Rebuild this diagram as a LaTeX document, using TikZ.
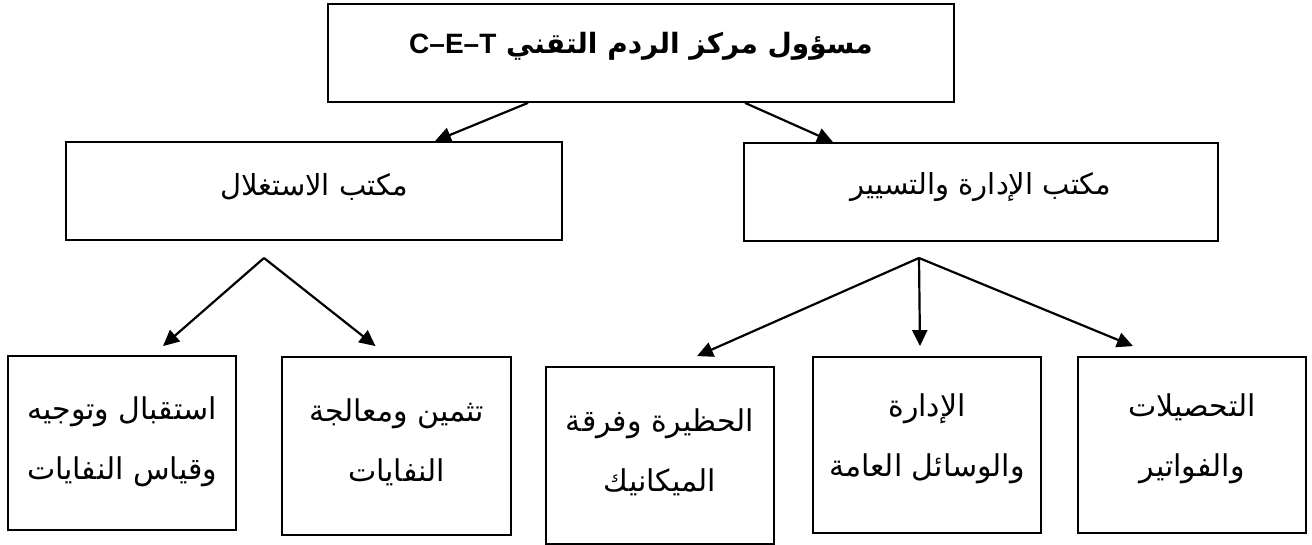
\documentclass[tikz,border=0pt]{standalone}
\usepackage{fontspec}
\setmainfont{Liberation Sans}
\newfontfamily\arabicfont[Script=Arabic]{DejaVu Sans}
\newfontfamily\latinfont{Liberation Sans}
\TeXXeTstate=1
\usetikzlibrary{arrows.meta}
\begin{document}
\begin{tikzpicture}[x=1pt,y=1pt,
  box/.style={draw, line width=1.8pt, inner sep=0pt},
  arr/.style={line width=2.2pt, -{Triangle[length=16pt,width=15pt]}},
  midlbl/.style={font=\arabicfont\fontsize{29}{34}\selectfont, align=center, inner sep=0pt},
  lbl/.style={font=\arabicfont\fontsize{30}{60}\selectfont, align=center, inner sep=0pt},
  toplbl/.style={font=\arabicfont\bfseries\fontsize{28}{32}\selectfont, inner sep=0pt}]
\useasboundingbox (0,0) rectangle (1312,-545);

% boxes
\node[box, minimum width=626pt, minimum height=98pt] (top) at (641,-53) {};
\node[box, minimum width=496pt, minimum height=98pt] (m1) at (314,-191) {};
\node[box, minimum width=474pt, minimum height=98pt] (m2) at (981,-192) {};
\node[box, minimum width=228pt, minimum height=174pt] (b1) at (122,-443) {};
\node[box, minimum width=229pt, minimum height=178pt] (b2) at (396.5,-446) {};
\node[box, minimum width=228pt, minimum height=177pt] (b3) at (660,-455.5) {};
\node[box, minimum width=228pt, minimum height=176pt] (b4) at (927,-445) {};
\node[box, minimum width=228pt, minimum height=176pt] (b5) at (1192,-445) {};

% texts
\node[toplbl] (ttop) at (641,-46) {\beginR مسؤول مركز الردم التقني \beginL{\latinfont\bfseries C–E–T}\endL\endR};
\node[midlbl] (tm1) at (314,-187) {\beginR مكتب الاستغلال\endR};
\node[midlbl] (tm2) at (981,-187) {\beginR مكتب الإدارة والتسيير\endR};
\node[lbl] (tb1) at (122,-442) {\beginR استقبال وتوجيه\endR\\\beginR وقياس النفايات\endR};
\node[lbl] (tb2) at (396.5,-442) {\beginR تثمين ومعالجة\endR\\\beginR النفايات\endR};
\node[lbl] (tb3) at (660,-452) {\beginR الحظيرة وفرقة\endR\\\beginR الميكانيك\endR};
\node[lbl] (tb4) at (927,-439) {\beginR الإدارة\endR\\\beginR والوسائل العامة\endR};
\node[lbl] (tb5) at (1192,-439) {\beginR التحصيلات\endR\\\beginR والفواتير\endR};

% branch points
\coordinate (apL) at (264,-258);
\coordinate (apR) at (919,-258);

% connectors
\draw[arr] ([xshift=-113pt]top.south) -- ([xshift=121pt]m1.north);
\draw[arr] ([xshift=104pt]top.south) -- ([xshift=-148pt]m2.north);
\draw[arr] (apL) -- ([shift={(41pt,9pt)}]b1.north);
\draw[arr] (apL) -- ([shift={(-21pt,10pt)}]b2.north);
\draw[arr] (apR) -- ([shift={(37pt,10pt)}]b3.north);
\draw[arr] (apR) -- ([shift={(-7pt,10pt)}]b4.north);
\draw[arr] (apR) -- ([shift={(-59pt,10pt)}]b5.north);
\end{tikzpicture}
\end{document}
